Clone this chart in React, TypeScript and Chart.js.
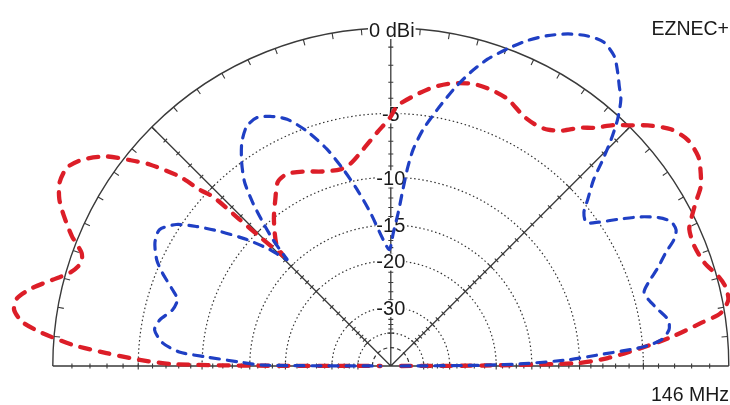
import { useEffect, useRef } from "react";
import { Chart, registerables } from "chart.js";

Chart.register(...registerables);

// Elevation angle (deg) and gain (dBi) for the two patterns
const RED_ELEV = [0, 0.3, 0.9, 2.1, 4.1, 5.9, 7.9, 9.1, 11.1, 13.3, 15.2, 18.2, 21.5, 24.6, 26.4, 28.2, 30.1, 32.4, 34.3, 37.3, 40.2, 43.1, 45.4, 47.2, 49.5, 51.5, 54.1, 56.4, 58.5, 62.0, 66.3, 70.2, 73.6, 77.5, 81.3, 85.2, 88.6, 90.2, 93.3, 97.3, 101.4, 104.4, 109.2, 114.3, 118.5, 121.6, 124.8, 128.0, 131.0, 133.6, 134.3, 135.3, 135.9, 136.4, 137.3, 138.1, 140.1, 141.7, 143.6, 146.2, 148.5, 151.0, 153.3, 155.4, 157.9, 159.9, 161.5, 163.6, 165.7, 167.7, 169.7, 171.5, 173.2, 174.6, 176.2, 177.4, 178.6, 179.5, 179.85, 180];
const RED_DBI = [-60, -22, -10.2, -7.6, -5.1, -3.1, -1.3, -0.2, 0.3, 0.3, 0.1, -0.4, -0.6, -0.5, -0.1, 0.4, 1.0, 1.4, 1.65, 1.7, 1.4, 0.7, 0.0, -0.5, -1.3, -1.8, -2.6, -3.0, -3.15, -3.05, -2.55, -2.4, -2.4, -2.65, -3.1, -3.8, -4.5, -5.3, -6.3, -7.5, -8.5, -8.75, -8.5, -7.9, -7.5, -7.7, -8.8, -9.9, -11.1, -12.3, -13.5, -10.8, -8.1, -5.5, -4.5, -3.0, -1.25, -0.3, 0.75, 1.6, 2.0, 1.95, 1.6, 1.05, 0.3, -0.45, -0.6, -0.25, 0.55, 1.4, 2.0, 2.05, 1.6, 0.6, -1.0, -2.95, -5.1, -7.5, -15, -60];

const BLUE_ELEV = [0, 0.5, 1.0, 2.0, 3.0, 4.3, 5.5, 7.4, 9.4, 11.9, 14.4, 16.3, 18.1, 20.2, 22.4, 24.0, 25.5, 27.3, 29.0, 30.8, 32.8, 34.7, 36.3, 38.5, 40.2, 42.6, 44.2, 45.8, 47.4, 49.2, 50.8, 52.3, 54.2, 56.7, 59.2, 61.9, 64.6, 67.2, 69.8, 72.5, 74.8, 77.2, 79.7, 82.2, 84.1, 85.2, 86.2, 87.2, 88.9, 90.7, 93.4, 97.6, 100.8, 103.6, 106.4, 109.6, 112.8, 115.8, 118.3, 121.0, 123.7, 126.2, 128.5, 130.2, 131.7, 133.0, 133.8, 134.3, 136.1, 138.7, 141.8, 144.3, 146.6, 149.5, 152.4, 155.6, 157.8, 160.7, 162.7, 165.6, 168.7, 171.3, 174.2, 176.2, 177.2, 178.5, 179.6, 180];
const BLUE_DBI = [-60, -22, -16, -11, -8.5, -5.0, -3.75, -3.2, -3.15, -3.65, -4.1, -4.25, -3.75, -2.95, -2.2, -1.5, -1.15, -1.2, -1.7, -2.55, -3.8, -5.0, -5.7, -5.4, -4.65, -3.5, -2.3, -1.15, -0.15, 0.7, 1.15, 1.6, 2.1, 2.35, 2.2, 1.85, 1.35, 0.75, 0.0, -0.85, -1.8, -3.0, -4.45, -5.95, -7.55, -9.2, -11.4, -13.5, -15.95, -18.3, -16.9, -13.4, -10.85, -8.8, -6.9, -5.25, -4.0, -3.4, -3.1, -3.25, -3.95, -5.0, -6.25, -7.85, -9.7, -11.5, -13.1, -14.1, -12.0, -9.75, -7.55, -5.95, -4.7, -3.95, -4.1, -4.7, -5.4, -6.5, -7.1, -6.95, -6.2, -5.95, -6.65, -8.0, -10.4, -13.8, -16.7, -60];

// Grid rings (dB) and labels
const RING_DB = [-5, -10, -15, -20, -30, -40];
const INNER_RING_DB = -50;
const RING_LABEL_DB = [-5, -10, -15, -20, -30];
const RING_LABELS = ["-5", "-10", "-15", "-20", "-30"];
const OUTER_LABEL = "0 dBi";
const PROGRAM_LABEL = "EZNEC+";
const FREQ_LABEL = "146 MHz";
const RADIAL_LINES_DEG = [45, 135];
const RIM_TICK_STEP_DEG = 5;

const W = 730;
const H = 405;
const CX = 390.8;
const CY = 366;
const R = 338;
const X_MIN = -CX / R;
const X_MAX = (W - CX) / R;
const Y_MAX = CY / R;
const Y_MIN = -(H - CY) / R;

const LABEL_FONT = '20px "Liberation Sans", Arial, sans-serif';
const CORNER_FONT = '19.5px "Liberation Sans", Arial, sans-serif';

function arrl(db: number) {
  return Math.pow(0.89, -db / 2);
}

function toPoints(elev: number[], dbi: number[]) {
  return elev.map((a, i) => {
    const r = arrl(dbi[i]);
    const t = (a * Math.PI) / 180;
    return { x: r * Math.cos(t), y: r * Math.sin(t) };
  });
}

const gridPlugin = {
  id: "polarGrid",
  beforeDatasetsDraw(chart: any) {
    const ctx = chart.ctx as CanvasRenderingContext2D;
    const xs = chart.scales.x;
    const ys = chart.scales.y;
    const cx = xs.getPixelForValue(0);
    const cy = ys.getPixelForValue(0);
    const rp = (db: number) => xs.getPixelForValue(arrl(db)) - cx;
    const R0 = rp(0);
    ctx.save();

    // dotted rings
    ctx.strokeStyle = "#333333";
    ctx.lineWidth = 1.2;
    ctx.setLineDash([1.5, 2.6]);
    for (const db of RING_DB) {
      ctx.beginPath();
      ctx.arc(cx, cy, rp(db), Math.PI, 2 * Math.PI);
      ctx.stroke();
    }
    ctx.setLineDash([4, 3]);
    ctx.beginPath();
    ctx.arc(cx, cy, rp(INNER_RING_DB), Math.PI, 2 * Math.PI);
    ctx.stroke();
    ctx.setLineDash([]);

    // outer rim
    ctx.strokeStyle = "#3a3a3a";
    ctx.lineWidth = 1.4;
    ctx.beginPath();
    ctx.arc(cx, cy, R0, Math.PI, 2 * Math.PI);
    ctx.stroke();

    // baseline, vertical, diagonals
    ctx.lineWidth = 1.3;
    ctx.beginPath();
    ctx.moveTo(cx - R0, cy);
    ctx.lineTo(cx + R0, cy);
    ctx.moveTo(cx, cy);
    ctx.lineTo(cx, cy - R0);
    for (const d of RADIAL_LINES_DEG) {
      const t = (d * Math.PI) / 180;
      ctx.moveTo(cx, cy);
      ctx.lineTo(cx + R0 * Math.cos(t), cy - R0 * Math.sin(t));
    }
    ctx.stroke();

    // rim ticks
    ctx.lineWidth = 1.1;
    ctx.beginPath();
    for (let d = RIM_TICK_STEP_DEG; d < 180; d += RIM_TICK_STEP_DEG) {
      if (d === 90) continue;
      const t = (d * Math.PI) / 180;
      ctx.moveTo(cx + R0 * Math.cos(t), cy - R0 * Math.sin(t));
      ctx.lineTo(cx + (R0 - 6) * Math.cos(t), cy - (R0 - 6) * Math.sin(t));
    }
    ctx.stroke();

    // radial ticks on axes
    const tickDb: number[] = [];
    for (let d = -1; d >= -20; d--) tickDb.push(d);
    for (let d = -22; d >= -40; d -= 2) tickDb.push(d);
    const axes = [0, 45, 90, 135, 180];
    ctx.beginPath();
    for (const a of axes) {
      const t = (a * Math.PI) / 180;
      const ux = Math.cos(t);
      const uy = -Math.sin(t);
      const px = -uy;
      const py = ux;
      for (const db of tickDb) {
        const r = rp(db);
        const big = db % 5 === 0 ? 3.5 : 2.5;
        const x0 = cx + ux * r;
        const y0 = cy + uy * r;
        ctx.moveTo(x0 - px * big, y0 - py * big);
        ctx.lineTo(x0 + px * big, y0 + py * big);
      }
    }
    ctx.stroke();

    // labels
    ctx.font = LABEL_FONT;
    ctx.textAlign = "center";
    ctx.textBaseline = "middle";
    const label = (txt: string, x: number, y: number) => {
      const w = ctx.measureText(txt).width;
      ctx.fillStyle = "#ffffff";
      ctx.fillRect(x - w / 2 - 1, y - 8, w + 2, 17);
      ctx.fillStyle = "#1a1a1a";
      ctx.fillText(txt, x, y + 1);
    };
    RING_LABEL_DB.forEach((db, i) => label(RING_LABELS[i], cx, cy - rp(db) + 1));
    label(OUTER_LABEL, cx + 1, cy - R0 + 2);

    ctx.font = CORNER_FONT;
    ctx.textAlign = "right";
    ctx.textBaseline = "alphabetic";
    ctx.fillStyle = "#1a1a1a";
    ctx.fillText(PROGRAM_LABEL, W - 1, 35);
    ctx.fillText(FREQ_LABEL, W - 1, 401);
    ctx.restore();
  },
};

export default function App() {
  const ref = useRef<HTMLCanvasElement | null>(null);
  useEffect(() => {
    if (!ref.current) return;
    const chart = new Chart(ref.current, {
      type: "scatter",
      data: {
        datasets: [
          {
            data: toPoints(BLUE_ELEV, BLUE_DBI),
            showLine: true,
            borderColor: "#1f3fc4",
            borderWidth: 3.2,
            borderDash: [9, 8],
            borderCapStyle: "round",
            pointRadius: 0,
            tension: 0.25,
            fill: false,
          },
          {
            data: toPoints(RED_ELEV, RED_DBI),
            showLine: true,
            borderColor: "#dc1e28",
            borderWidth: 4.3,
            borderDash: [10, 10],
            borderCapStyle: "round",
            pointRadius: 0,
            tension: 0.25,
            fill: false,
          },
        ],
      } as any,
      options: {
        responsive: false,
        animation: false,
        layout: { padding: 0, autoPadding: false },
        plugins: { legend: { display: false }, tooltip: { enabled: false } },
        scales: {
          x: { type: "linear", min: X_MIN, max: X_MAX, display: false },
          y: { type: "linear", min: Y_MIN, max: Y_MAX, display: false },
        },
      } as any,
      plugins: [gridPlugin],
    });
    return () => chart.destroy();
  }, []);
  return (
    <div style={{ position: "absolute", left: 0, top: 0, width: W, height: H, background: "#fff" }}>
      <canvas ref={ref} width={W} height={H} style={{ display: "block" }} />
    </div>
  );
}
